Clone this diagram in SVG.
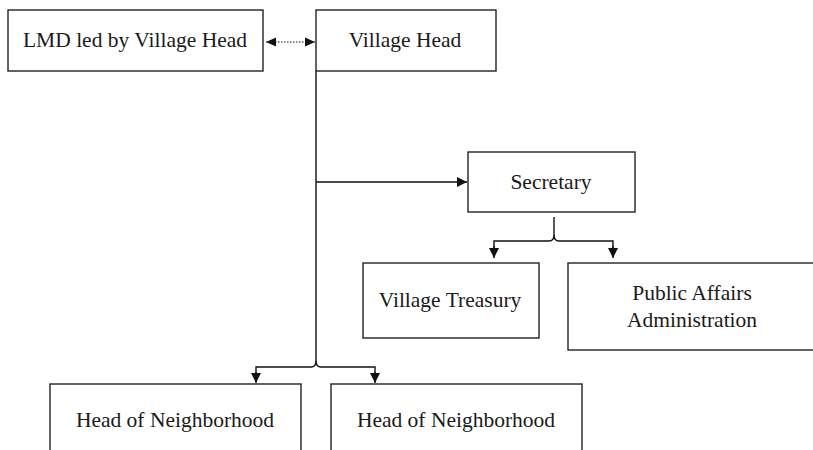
<svg xmlns="http://www.w3.org/2000/svg" width="813" height="450" viewBox="0 0 813 450">
<style>
.box{fill:#fff;stroke:#222;stroke-width:1.4}
.t{font-family:"Liberation Serif","Times New Roman","DejaVu Serif",serif;font-size:21.5px;fill:#1a1a1a;text-anchor:middle}
.c{fill:none;stroke:#111;stroke-width:1.4}
.d{fill:none;stroke:#111;stroke-width:1.2;stroke-dasharray:1.5 1.5}
</style>
<defs>
<marker id="ah" markerWidth="12" markerHeight="12" refX="10" refY="6" orient="auto" markerUnits="userSpaceOnUse">
<path d="M0,1 L10,6 L0,11 Z" fill="#111"/>
</marker>
<marker id="ahs" markerWidth="12" markerHeight="12" refX="10" refY="6" orient="auto-start-reverse" markerUnits="userSpaceOnUse">
<path d="M0,1.5 L10,6 L0,10.5 Z" fill="#111"/>
</marker>
</defs>
<rect width="813" height="450" fill="#fff"/>
<g id="connectors">
<line class="d" x1="266" y1="42" x2="315" y2="42" marker-start="url(#ahs)" marker-end="url(#ahs)"/>
<line class="c" x1="316" y1="71" x2="316" y2="362"/>
<line class="c" x1="316" y1="182" x2="467" y2="182" marker-end="url(#ah)"/>
<path class="c" d="M256 374 V367 H311 Q316 367 316 361 Q316 367 321 367 H375 V374"/>
<line class="c" x1="256" y1="372" x2="256" y2="383" marker-end="url(#ah)"/>
<line class="c" x1="375" y1="372" x2="375" y2="383" marker-end="url(#ah)"/>
<line class="c" x1="554" y1="217" x2="554" y2="236"/>
<path class="c" d="M494 248 V241 H549 Q554 241 554 235 Q554 241 559 241 H613 V248"/>
<line class="c" x1="494" y1="246" x2="494" y2="258" marker-end="url(#ah)"/>
<line class="c" x1="613" y1="246" x2="613" y2="258" marker-end="url(#ah)"/>
</g>
<g id="lmd">
<rect class="box" x="8" y="10" width="255" height="61"/>
<text class="t" x="135" y="47">LMD led by Village Head</text>
</g>
<g id="village-head">
<rect class="box" x="316" y="10" width="180" height="61"/>
<text class="t" x="405" y="47">Village Head</text>
</g>
<g id="secretary">
<rect class="box" x="468" y="152" width="167" height="60"/>
<text class="t" x="551" y="189">Secretary</text>
</g>
<g id="village-treasury">
<rect class="box" x="363" y="263" width="176" height="75"/>
<text class="t" x="450" y="307">Village Treasury</text>
</g>
<g id="public-affairs">
<rect class="box" x="568" y="263" width="250" height="87"/>
<text class="t" x="692" y="300">Public Affairs</text>
<text class="t" x="692" y="327">Administration</text>
</g>
<g id="head-neighborhood-1">
<rect class="box" x="50" y="384" width="251" height="80"/>
<text class="t" x="175" y="427">Head of Neighborhood</text>
</g>
<g id="head-neighborhood-2">
<rect class="box" x="331" y="384" width="251" height="80"/>
<text class="t" x="456" y="427">Head of Neighborhood</text>
</g>
</svg>
